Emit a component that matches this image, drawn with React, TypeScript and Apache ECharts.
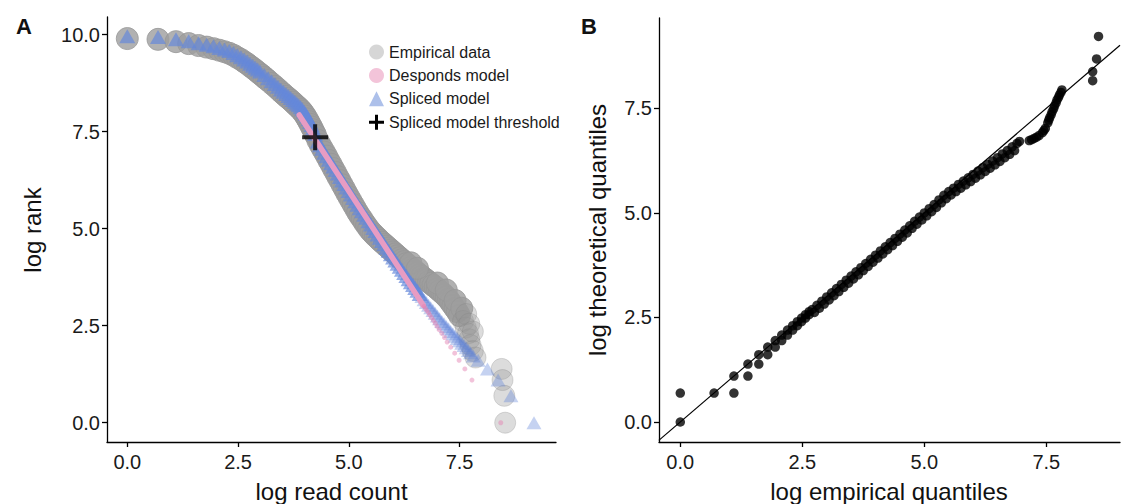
import React, { useEffect, useRef } from "react";
import * as echarts from "echarts";

const FONT = '"Liberation Sans", Arial, Helvetica, sans-serif';

// ---------- Panel A: rank plot ----------
const xTicksA = [0, 2.5, 5, 7.5];
const yTicksA = [0, 2.5, 5, 7.5, 10];

const empiricalMain: number[][] = [
  [0, 9.9], [0.693, 9.88], [1.099, 9.82], [1.386, 9.77], [1.609, 9.72], [1.792, 9.68],
  [1.946, 9.64], [2.079, 9.6], [2.197, 9.56], [2.303, 9.52], [2.398, 9.47], [2.485, 9.41],
  [2.565, 9.36], [2.639, 9.3], [2.708, 9.25], [2.773, 9.19], [2.833, 9.14], [2.89, 9.09],
  [2.944, 9.04], [2.996, 8.99], [3.045, 8.95], [3.091, 8.9], [3.135, 8.86], [3.178, 8.82],
  [3.258, 8.74], [3.332, 8.67], [3.401, 8.6], [3.466, 8.53], [3.526, 8.47], [3.584, 8.41],
  [3.638, 8.36], [3.689, 8.31], [3.738, 8.26], [3.784, 8.21], [3.829, 8.16], [3.871, 8.12],
  [3.912, 8.07], [3.951, 8.02], [3.989, 7.96], [4.025, 7.9], [4.06, 7.83], [4.094, 7.76],
  [4.127, 7.69], [4.159, 7.62], [4.19, 7.55], [4.22, 7.48], [4.25, 7.41], [4.3, 7.28],
  [4.35, 7.17], [4.4, 7.07], [4.45, 6.97], [4.5, 6.87], [4.55, 6.76], [4.6, 6.66],
  [4.65, 6.55], [4.7, 6.45], [4.75, 6.34], [4.8, 6.24], [4.85, 6.13], [4.9, 6.03],
  [4.95, 5.92], [5.0, 5.82], [5.05, 5.72], [5.1, 5.62], [5.15, 5.52], [5.2, 5.42],
  [5.25, 5.33], [5.3, 5.25], [5.35, 5.16], [5.4, 5.08], [5.45, 5.0], [5.5, 4.93],
  [5.55, 4.87], [5.6, 4.81], [5.65, 4.76], [5.7, 4.7], [5.75, 4.65], [5.8, 4.6],
  [5.85, 4.55], [5.9, 4.5], [5.95, 4.45], [6.0, 4.4], [6.05, 4.35], [6.1, 4.3],
  [6.15, 4.25], [6.2, 4.2], [6.25, 4.15], [6.3, 4.1], [6.35, 4.05], [6.4, 4.0],
  [6.45, 3.95], [6.5, 3.9], [6.55, 3.86], [6.6, 3.81], [6.65, 3.77], [6.7, 3.72],
  [6.75, 3.68], [6.8, 3.63], [6.85, 3.59], [6.9, 3.54], [6.95, 3.5], [7.0, 3.45],
  [7.05, 3.4], [7.1, 3.35], [7.15, 3.3], [7.2, 3.24], [7.25, 3.18], [7.3, 3.1],
  [7.35, 3.02], [7.4, 2.94], [7.45, 2.86], [7.5, 2.76],
  [6.4, 4.12], [6.55, 3.98], [7.0, 3.6], [7.2, 3.42], [7.4, 3.15], [7.55, 2.95],
];
const empiricalTail: number[][] = [
  [7.58, 2.62], [7.64, 2.45], [7.69, 2.3], [7.72, 2.15], [7.75, 2.0], [7.8, 1.85],
  [7.86, 1.68], [7.65, 2.8], [7.72, 2.55], [7.8, 2.35],
  [8.45, 1.386], [8.47, 1.099], [8.51, 0.693], [8.53, 0],
];

const splicedMain: number[][] = [
  [0, 9.96], [0.693, 9.94], [1.099, 9.88], [1.386, 9.83], [1.609, 9.78], [1.792, 9.74],
  [1.946, 9.7], [2.079, 9.66], [2.197, 9.62], [2.303, 9.58], [2.398, 9.53], [2.485, 9.47],
  [2.565, 9.42], [2.639, 9.36], [2.708, 9.31], [2.773, 9.25], [2.833, 9.2], [2.89, 9.15],
  [2.944, 9.1], [2.996, 9.05], [3.091, 8.96], [3.178, 8.88], [3.258, 8.8], [3.332, 8.73],
  [3.401, 8.66], [3.466, 8.59], [3.526, 8.53], [3.584, 8.47], [3.638, 8.42], [3.689, 8.37],
  [3.738, 8.32], [3.784, 8.27], [3.829, 8.22], [3.871, 8.18], [3.912, 8.13], [3.951, 8.08],
  [3.989, 8.02], [4.025, 7.96], [4.06, 7.89], [4.094, 7.82], [4.127, 7.75], [4.159, 7.67],
  [4.19, 7.59], [4.24, 7.44], [4.3, 7.25], [4.35, 7.15], [4.4, 7.06], [4.45, 6.96],
  [4.5, 6.87], [4.55, 6.78], [4.6, 6.69], [4.65, 6.6], [4.7, 6.51], [4.75, 6.42],
  [4.8, 6.33], [4.85, 6.24], [4.9, 6.15], [4.95, 6.06], [5.0, 5.97], [5.05, 5.88],
  [5.1, 5.79], [5.15, 5.71], [5.2, 5.62], [5.25, 5.53], [5.3, 5.45], [5.35, 5.36],
  [5.4, 5.28], [5.45, 5.19], [5.5, 5.11], [5.55, 5.02], [5.6, 4.94], [5.65, 4.85],
  [5.7, 4.77], [5.75, 4.68], [5.8, 4.6], [5.85, 4.51], [5.9, 4.43], [5.95, 4.34],
  [6.0, 4.26], [6.05, 4.18], [6.1, 4.1], [6.15, 4.02], [6.2, 3.94], [6.25, 3.86],
  [6.3, 3.78], [6.35, 3.7], [6.4, 3.62], [6.45, 3.55], [6.5, 3.47], [6.55, 3.4], [6.6, 3.32],
];
const splicedTail: number[][] = [
  [6.65, 3.25], [6.7, 3.17], [6.75, 3.1], [6.8, 3.03], [6.85, 2.96], [6.9, 2.89],
  [6.95, 2.82], [7.0, 2.75], [7.05, 2.68], [7.1, 2.61], [7.15, 2.55], [7.2, 2.48],
  [7.25, 2.42], [7.3, 2.35], [7.35, 2.29], [7.4, 2.23], [7.45, 2.17], [7.5, 2.11],
  [7.55, 2.05], [7.6, 1.99], [7.65, 1.93], [7.7, 1.86], [7.75, 1.8], [7.81, 1.72],
  [7.92, 1.609], [8.13, 1.386], [8.37, 1.099], [8.66, 0.693], [9.18, 0],
];

const despondsLine: number[][] = [[3.88, 7.93], [6.68, 3.03]];
const despondsDots: number[][] = [
  [6.7, 3.0], [6.73, 2.944], [6.76, 2.89], [6.8, 2.833], [6.83, 2.773], [6.87, 2.708],
  [6.91, 2.639], [6.95, 2.565], [6.99, 2.485], [7.04, 2.398], [7.1, 2.303], [7.16, 2.197],
  [7.22, 2.079], [7.3, 1.946], [7.39, 1.792], [7.49, 1.609], [7.62, 1.386], [7.78, 1.099],
  [8.43, 0],
];
const thresholdPoint: number[][] = [[4.24, 7.36]];

// ---------- Panel B: QQ plot ----------
const xTicksB = [0, 2.5, 5, 7.5];
const yTicksB = [0, 2.5, 5, 7.5];
const qqPoints: number[][] = [
  [0, 0], [0, 0.693], [0.693, 0.693], [1.099, 0.693], [1.099, 1.099], [1.386, 1.099],
  [1.386, 1.386], [1.609, 1.386], [1.609, 1.609], [1.792, 1.609], [1.792, 1.792],
  [1.946, 1.792], [1.946, 1.946], [2.079, 1.946], [2.079, 2.079], [2.197, 2.079],
  [2.197, 2.197], [2.303, 2.197], [2.303, 2.303], [2.398, 2.303], [2.398, 2.398],
  [2.485, 2.398], [2.485, 2.485], [2.565, 2.485], [2.565, 2.565], [2.639, 2.565],
  [2.639, 2.639], [2.7, 2.69], [2.8, 2.79], [2.9, 2.89], [3.0, 2.99], [3.1, 3.09],
  [3.2, 3.19], [3.3, 3.29], [3.4, 3.39], [3.5, 3.49], [3.6, 3.59], [3.7, 3.69],
  [3.8, 3.79], [3.9, 3.89], [4.0, 3.99], [4.1, 4.09], [4.2, 4.19], [4.3, 4.29],
  [4.4, 4.39], [4.5, 4.49], [4.6, 4.59], [4.7, 4.69], [4.8, 4.8], [4.9, 4.9],
  [5.0, 5.0], [5.1, 5.1], [5.2, 5.2], [5.3, 5.31], [5.4, 5.42], [5.5, 5.51],
  [5.6, 5.59], [5.7, 5.68], [5.8, 5.76], [5.9, 5.84], [6.0, 5.92], [6.1, 6.0],
  [6.2, 6.08], [6.3, 6.16], [6.4, 6.24], [6.5, 6.32], [6.6, 6.41], [6.7, 6.49],
  [6.8, 6.58], [6.9, 6.66], [6.95, 6.71],
  [2.75, 2.62], [2.85, 2.72], [2.95, 2.82], [3.05, 2.92], [3.15, 3.02], [3.25, 3.12],
  [3.35, 3.22], [3.45, 3.32], [3.55, 3.42], [3.65, 3.52], [3.75, 3.62], [3.85, 3.72],
  [3.95, 3.82], [4.05, 3.92], [4.15, 4.02], [4.25, 4.12], [4.35, 4.22], [4.45, 4.32],
  [4.55, 4.42], [4.65, 4.52], [4.75, 4.63], [4.85, 4.73], [4.95, 4.83], [5.05, 4.93],
  [5.15, 5.03], [5.25, 5.13], [5.35, 5.24], [5.45, 5.34], [5.55, 5.43], [5.65, 5.51],
  [5.75, 5.59], [5.85, 5.67], [5.95, 5.75], [6.05, 5.83], [6.15, 5.91], [6.25, 5.99],
  [6.35, 6.07], [6.45, 6.15], [6.55, 6.23], [6.65, 6.32], [6.75, 6.4], [6.85, 6.49],
  [7.15, 6.73], [7.2, 6.75], [7.25, 6.78], [7.3, 6.81], [7.35, 6.85], [7.42, 6.92],
  [7.45, 6.97], [7.48, 7.02], [7.53, 7.15], [7.55, 7.22], [7.57, 7.28], [7.6, 7.35],
  [7.62, 7.42], [7.65, 7.49], [7.67, 7.56], [7.7, 7.63], [7.72, 7.7], [7.75, 7.76],
  [7.77, 7.82], [7.8, 7.88], [7.82, 7.94],
  [8.45, 8.16], [8.45, 8.38], [8.53, 8.68], [8.57, 9.22],
];
const identityLine: number[][] = [[-0.44, -0.44], [9.01, 9.01]];

const PLUS_BIG = "path://M11,0H15V11H26V15H15V26H11V15H0V11H11Z";
const PLUS_LEGEND = "path://M6,0H9V6H15V9H9V15H6V9H0V6H6Z";

function makeAxis(gridIndex: number, min: number, max: number, ticks: number[], margin: number) {
  return {
    type: "value",
    gridIndex,
    min,
    max,
    splitLine: { show: false },
    axisLine: { show: true, onZero: false, lineStyle: { color: "#000", width: 1.3 } },
    axisTick: { show: true, length: 5, customValues: ticks, lineStyle: { color: "#000", width: 1.3 } },
    axisLabel: {
      customValues: ticks,
      formatter: (v: number) => v.toFixed(1),
      fontSize: 20,
      color: "#1a1a1a",
      fontFamily: FONT,
      margin,
    },
  };
}

function txt(x: number, y: number, text: string, size: number, bold = false, rotation = 0) {
  return {
    type: "text",
    x,
    y,
    rotation,
    silent: true,
    style: {
      text,
      fontSize: size,
      fontFamily: FONT,
      fontWeight: bold ? "bold" : "normal",
      fill: "#111",
      align: "center",
      verticalAlign: "middle",
      textAlign: "center",
      textVerticalAlign: "middle",
    },
  };
}

export default function App() {
  const ref = useRef<HTMLDivElement>(null);
  useEffect(() => {
    if (!ref.current) return;
    const chart = echarts.init(ref.current, undefined, { renderer: "svg" });
    const option: any = {
      animation: false,
      backgroundColor: "#fff",
      grid: [
        { left: 107, top: 17, width: 449, height: 425 },
        { left: 659, top: 18, width: 461, height: 424 },
      ],
      xAxis: [makeAxis(0, -0.458, 9.677, xTicksA, 10), makeAxis(1, -0.436, 9.01, xTicksB, 10)],
      yAxis: [makeAxis(0, -0.497, 10.456, yTicksA, 7), makeAxis(1, -0.478, 9.66, yTicksB, 7)],
      legend: {
        orient: "vertical",
        left: 369,
        top: 44,
        padding: 0,
        itemWidth: 15,
        itemHeight: 15,
        itemGap: 7.4,
        selectedMode: false,
        textStyle: { fontSize: 16, color: "#1a1a1a", fontFamily: FONT },
        data: [
          { name: "Empirical data", icon: "circle", itemStyle: { color: "#d6d6d6", borderWidth: 0, opacity: 1 } },
          { name: "Desponds model", icon: "circle", itemStyle: { color: "#f3c4d9", borderWidth: 0, opacity: 1 } },
          { name: "Spliced model", icon: "triangle", itemStyle: { color: "#adc0ea", borderWidth: 0, opacity: 1 } },
          { name: "Spliced model threshold", icon: PLUS_LEGEND, itemStyle: { color: "#000", borderWidth: 0, opacity: 1 } },
        ],
      },
      series: [
        {
          type: "scatter", name: "Empirical data", xAxisIndex: 0, yAxisIndex: 0,
          data: empiricalMain, symbol: "circle", symbolSize: 22,
          itemStyle: { color: "#9d9d9d", borderColor: "#979797", borderWidth: 1 },
          emphasis: { disabled: true }, silent: true, z: 1,
        },
        {
          type: "scatter", name: "Empirical data", xAxisIndex: 0, yAxisIndex: 0,
          data: empiricalTail, symbol: "circle", symbolSize: 21,
          itemStyle: { color: "rgba(150,150,150,0.42)", borderColor: "rgba(130,130,130,0.35)", borderWidth: 1 },
          emphasis: { disabled: true }, silent: true, z: 1,
        },
        {
          type: "scatter", name: "Spliced model", xAxisIndex: 0, yAxisIndex: 0,
          data: splicedMain, symbol: "triangle", symbolSize: [16, 14],
          itemStyle: { color: "rgba(100,135,218,0.85)" },
          emphasis: { disabled: true }, silent: true, z: 2,
        },
        {
          type: "scatter", name: "Spliced model", xAxisIndex: 0, yAxisIndex: 0,
          data: splicedTail, symbol: "triangle", symbolSize: [15, 13],
          itemStyle: { color: "rgba(95,130,215,0.45)" },
          emphasis: { disabled: true }, silent: true, z: 2,
        },
        {
          type: "scatter", name: "Desponds model", xAxisIndex: 0, yAxisIndex: 0,
          data: despondsDots, symbol: "circle", symbolSize: 5,
          itemStyle: { color: "rgba(228,130,178,0.6)" },
          emphasis: { disabled: true }, silent: true, z: 3,
        },
        {
          type: "line", name: "Desponds model", xAxisIndex: 0, yAxisIndex: 0,
          data: despondsLine, showSymbol: false, symbol: "none",
          lineStyle: { color: "#e79cc3", width: 5.5, cap: "round" },
          emphasis: { disabled: true }, silent: true, z: 3,
        },
        {
          type: "scatter", name: "Spliced model threshold", xAxisIndex: 0, yAxisIndex: 0,
          data: thresholdPoint, symbol: PLUS_BIG, symbolSize: 26,
          itemStyle: { color: "#000" },
          emphasis: { disabled: true }, silent: true, z: 4,
        },
        {
          type: "scatter", name: "QQ", xAxisIndex: 1, yAxisIndex: 1,
          data: qqPoints, symbol: "circle", symbolSize: 9.5,
          itemStyle: { color: "#000" },
          emphasis: { disabled: true }, silent: true, z: 2,
        },
        {
          type: "line", name: "Identity", xAxisIndex: 1, yAxisIndex: 1,
          data: identityLine, showSymbol: false, symbol: "none",
          lineStyle: { color: "#000", width: 1.2 },
          emphasis: { disabled: true }, silent: true, z: 3,
        },
      ],
      graphic: [
        txt(24, 26, "A", 22, true),
        txt(589, 26, "B", 22, true),
        txt(32, 230, "log rank", 24, false, Math.PI / 2),
        txt(331.5, 491, "log read count", 24),
        txt(597, 230, "log theoretical quantiles", 24, false, Math.PI / 2),
        txt(889, 491, "log empirical quantiles", 24),
      ],
    };
    chart.setOption(option);
    return () => chart.dispose();
  }, []);
  return (
    <div
      ref={ref}
      style={{ position: "fixed", left: 0, top: 0, width: 1126, height: 504, background: "#fff" }}
    />
  );
}
